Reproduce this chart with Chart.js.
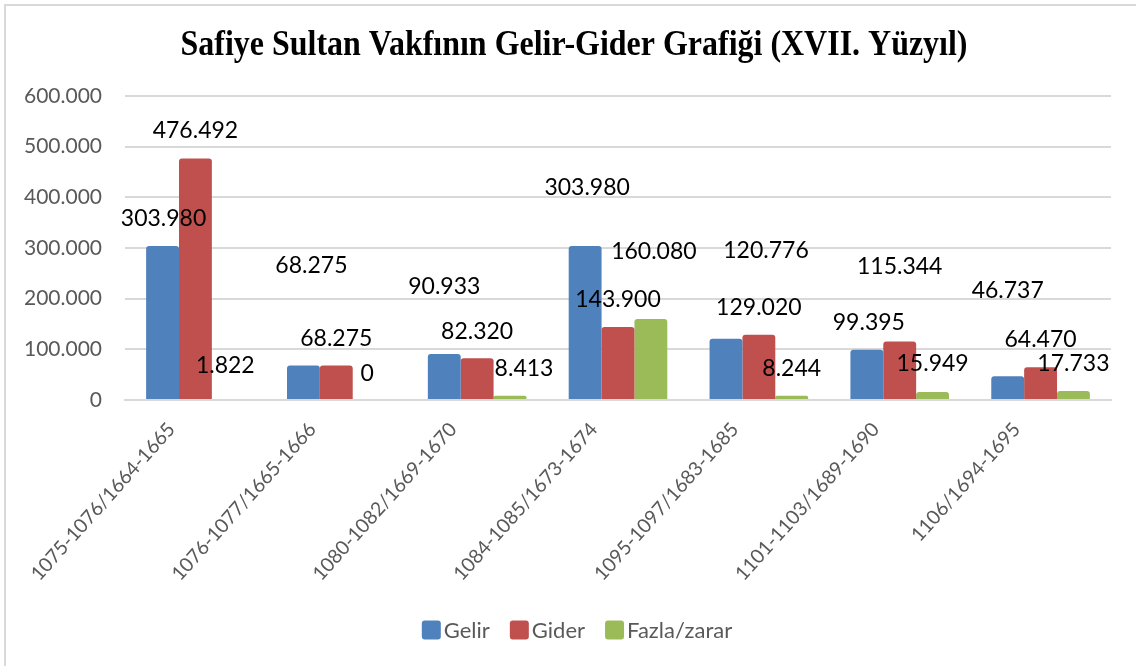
<!DOCTYPE html>
<html>
<head>
<meta charset="utf-8">
<title>Safiye Sultan Vakfının Gelir-Gider Grafiği</title>
<script src="https://cdn.jsdelivr.net/npm/chart.js@4.4.1/dist/chart.umd.min.js"></script>
<style>
  html, body { margin: 0; padding: 0; background: #fff; }
  #wrap { width: 1136px; height: 666px; position: relative; }
</style>
</head>
<body>
<div id="wrap"><canvas id="c"></canvas></div>
<script>
// data
const periods = ['1075-1076/1664-1665', '1076-1077/1665-1666', '1080-1082/1669-1670', '1084-1085/1673-1674',
                 '1095-1097/1683-1685', '1101-1103/1689-1690', '1106/1694-1695'];
const gelir = [303980, 68275, 90933, 303980, 120776, 99395, 46737];
const gider = [476492, 68275, 82320, 143900, 129020, 115344, 64470];
const fazla = [1822, 0, 8413, 160080, 8244, 15949, 17733];
const yTicks = [0, 100000, 200000, 300000, 400000, 500000, 600000];

// where the (misplaced) value labels sit: value height on the axis + x shift in px
const labelAt = [
  [359000, 266000, 223000, 420000, 294000, 152000, 215000],
  [531000, 122000, 136000, 199000, 183000, 264000, 120000],
  [67000, 53000, 63000, 292000, 63000, 71000, 71000]
];
const labelShift = [
  [1, 8, 0, 2, 40, 2, 0],
  [0, 0, 0, 0, 0, 0, 0],
  [-3, -2, 14, 3, 0, 0, 0]
];

const SANS = 'Lato, "Open Sans", sans-serif';
const fmt = v => v.toLocaleString('de-DE');

const frame = {
  id: 'frame',
  beforeDraw(chart) {
    const ctx = chart.ctx;
    ctx.save();
    ctx.fillStyle = '#fff';
    ctx.fillRect(0, 0, chart.width, chart.height);
    ctx.strokeStyle = '#d9d9d9';
    ctx.lineWidth = 2;
    ctx.beginPath();
    ctx.moveTo(5, chart.height);
    ctx.lineTo(5, 5);
    ctx.lineTo(chart.width, 5);
    ctx.stroke();
    // title, condensed like the original
    ctx.font = 'bold 35px "Liberation Serif", "Times New Roman", serif';
    ctx.fillStyle = '#000';
    ctx.textAlign = 'center';
    ctx.textBaseline = 'middle';
    const t = 'Safiye Sultan Vakfının Gelir-Gider Grafiği (XVII. Yüzyıl)';
    const w = ctx.measureText(t).width;
    ctx.translate(574, 46);
    ctx.scale(787 / w, 1);
    ctx.fillText(t, 0, 0);
    ctx.restore();
  }
};

const valueLabels = {
  id: 'valueLabels',
  afterDatasetsDraw(chart) {
    const ctx = chart.ctx, y = chart.scales.y;
    ctx.save();
    ctx.font = '23px ' + SANS;
    ctx.fillStyle = '#000';
    ctx.textAlign = 'center';
    ctx.textBaseline = 'middle';
    chart.data.datasets.forEach((ds, i) => {
      chart.getDatasetMeta(i).data.forEach((bar, j) => {
        ctx.fillText(fmt(ds.data[j]), bar.x + labelShift[i][j], y.getPixelForValue(labelAt[i][j]));
      });
    });
    ctx.restore();
  }
};

// Excel-style legend: square swatch tight against its text
const bottomLegend = {
  id: 'bottomLegend',
  afterDraw(chart) {
    const ctx = chart.ctx, box = 19, gap = 3, space = 20;
    ctx.save();
    ctx.font = '22px ' + SANS;
    ctx.textBaseline = 'middle';
    const items = chart.data.datasets.map(ds => ({ text: ds.label, color: ds.backgroundColor, w: ctx.measureText(ds.label).width }));
    const total = items.reduce((s, it) => s + box + gap + it.w, 0) + space * (items.length - 1);
    let x = 577 - total / 2;
    const cy = 630;
    items.forEach(it => {
      ctx.fillStyle = it.color;
      ctx.beginPath();
      ctx.roundRect(x, cy - box / 2, box, box, 3);
      ctx.fill();
      ctx.fillStyle = '#595959';
      ctx.fillText(it.text, x + box + gap, cy + 1);
      x += box + gap + it.w + space;
    });
    ctx.restore();
  }
};

new Chart(document.getElementById('c'), {
  type: 'bar',
  data: {
    labels: periods,
    datasets: [
      { label: 'Gelir', data: gelir, backgroundColor: '#4F81BD' },
      { label: 'Gider', data: gider, backgroundColor: '#C0504D' },
      { label: 'Fazla/zarar', data: fazla, backgroundColor: '#9BBB59' }
    ]
  },
  options: {
    responsive: true, maintainAspectRatio: false, animation: false,
    layout: { padding: { top: 96, right: 25, bottom: 0, left: 0 } },
    datasets: { bar: { categoryPercentage: 0.70, barPercentage: 1.0, borderRadius: { topLeft: 3, topRight: 3 }, borderSkipped: 'bottom' } },
    plugins: {
      legend: { display: false },
      tooltip: { enabled: false }
    },
    scales: {
      x: {
        grid: { display: false },
        border: { color: '#d9d9d9', width: 2 },
        ticks: { color: '#595959', font: { size: 19.5, family: SANS }, minRotation: 48, maxRotation: 48, labelOffset: -24, padding: 10 },
        afterFit(s) { s.height = 266; }
      },
      y: {
        min: 0, max: 600000,
        afterBuildTicks(s) { s.ticks = yTicks.map(v => ({ value: v })); },
        grid: { color: '#d9d9d9', lineWidth: 2, drawTicks: false },
        border: { display: false },
        ticks: { color: '#595959', font: { size: 21, family: SANS }, padding: 23, callback: v => fmt(v) },
        afterFit(s) { s.width = 125; }
      }
    }
  },
  plugins: [frame, valueLabels, bottomLegend]
});
</script>
</body>
</html>
